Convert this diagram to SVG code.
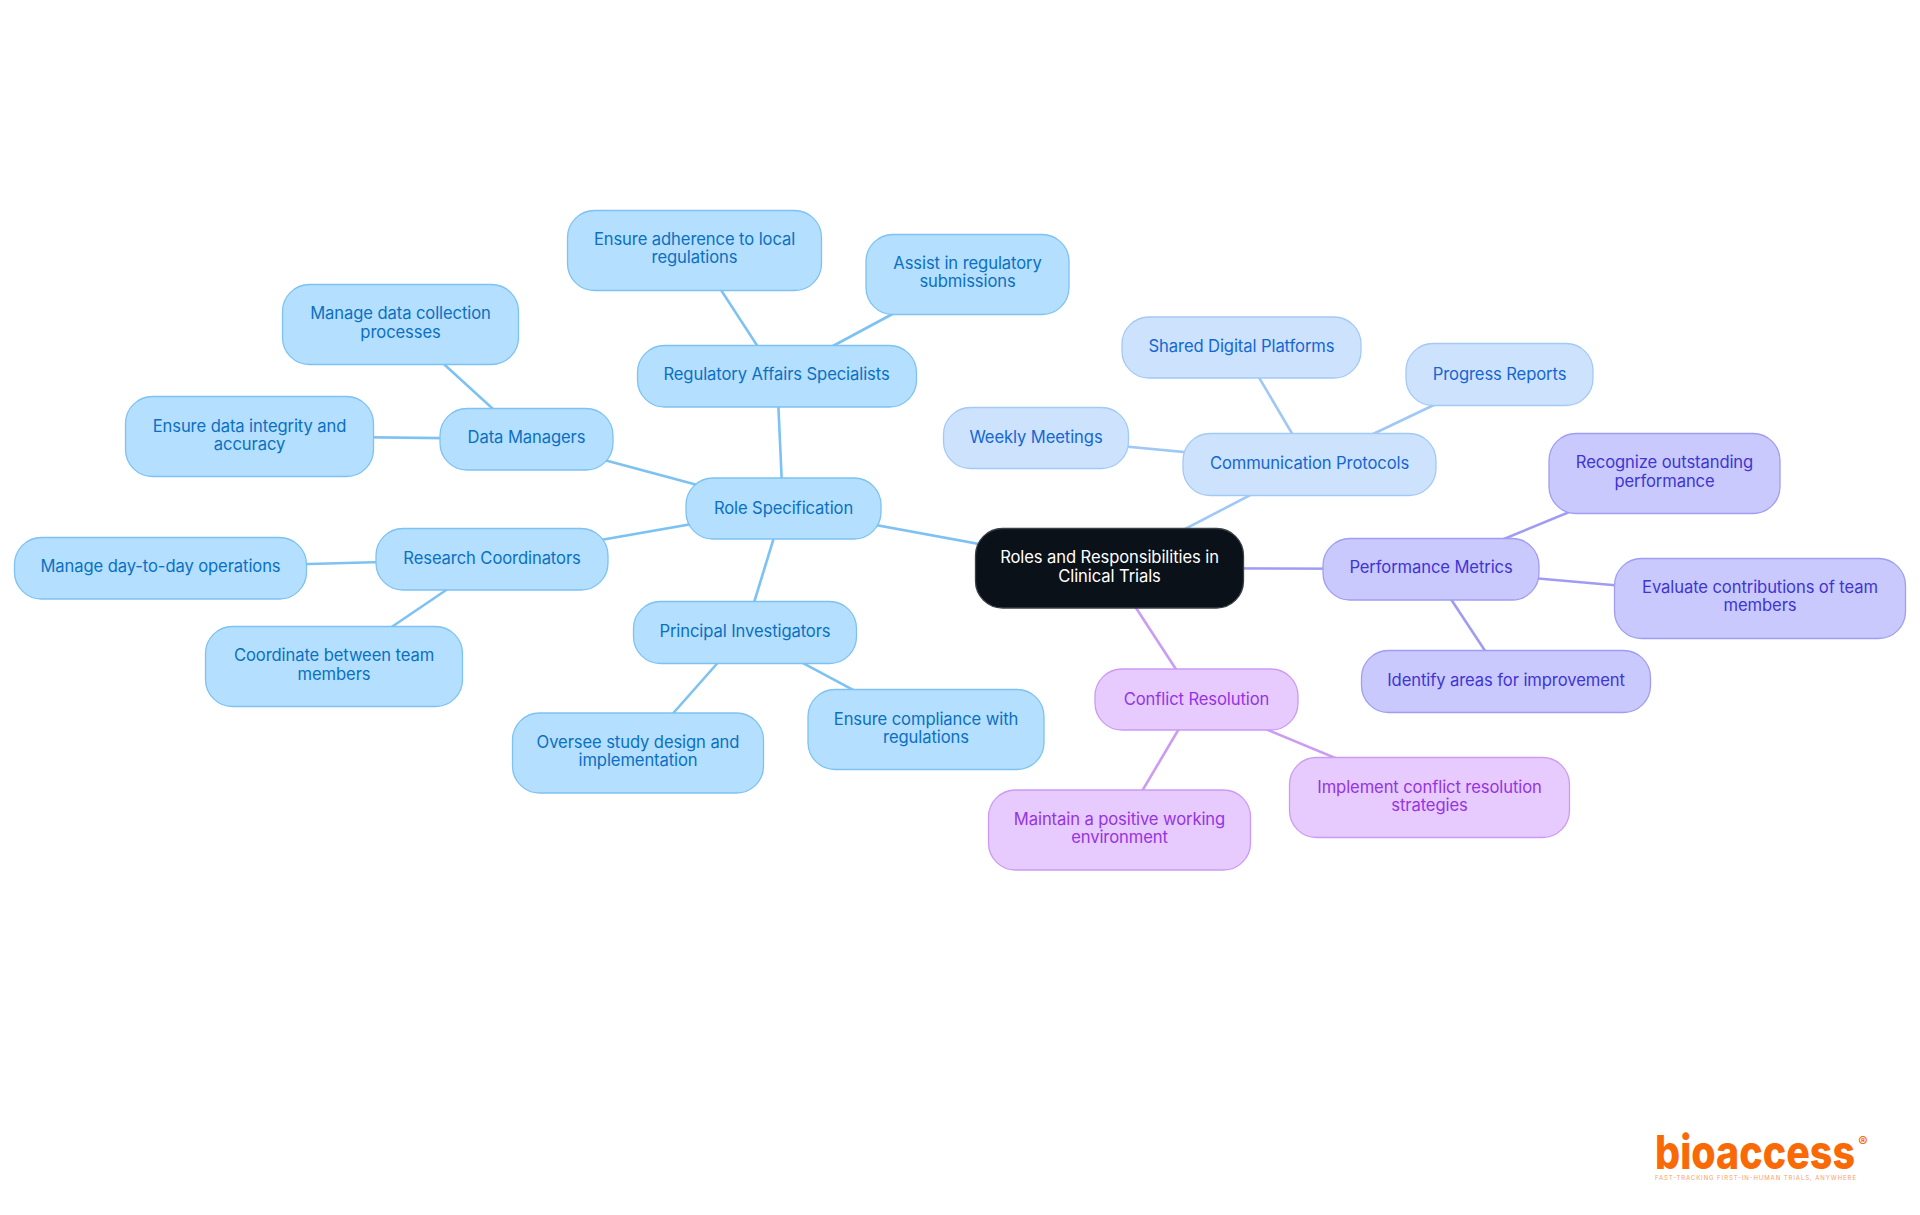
<svg xmlns="http://www.w3.org/2000/svg" width="1920" height="1215" viewBox="0 0 1920 1215">
<style>
text{font-family:"Inter","Noto Sans","Liberation Sans",sans-serif;font-size:16.6px;text-anchor:middle;letter-spacing:-.1px}
rect{stroke-width:1.3}
.blue rect{fill:#b4dfff;stroke:#7dc2f2}.blue text{fill:#0b70c2}
.sky rect{fill:#cde2fd;stroke:#a3c9f5}.sky text{fill:#1467d3}
.ind rect{fill:#c9c9fd;stroke:#a09df2}.ind text{fill:#3f35d4}
.pur rect{fill:#e7cafe;stroke:#cb9bf3}.pur text{fill:#9534e4}
.root rect{fill:#0b1119;stroke:#3a3f46}.root text{fill:#fff}
#connectors line{stroke-width:2.6}
.cb{stroke:#7dc2f2}.cs{stroke:#a0c8f6}.ci{stroke:#9f9cf2}.cp{stroke:#ca9cf4}
</style>
<g id="connectors">
<line class="cb" x1="1110" y1="568" x2="783" y2="508"/>
<line class="cs" x1="1110" y1="568" x2="1310" y2="464"/>
<line class="ci" x1="1110" y1="568" x2="1431" y2="569"/>
<line class="cp" x1="1110" y1="568" x2="1196" y2="700"/>
<line class="cb" x1="783" y1="508" x2="777" y2="376"/>
<line class="cb" x1="783" y1="508" x2="526" y2="439"/>
<line class="cb" x1="783" y1="508" x2="492" y2="559"/>
<line class="cb" x1="783" y1="508" x2="745" y2="632"/>
<line class="cb" x1="777" y1="376" x2="695" y2="250"/>
<line class="cb" x1="777" y1="376" x2="967" y2="274"/>
<line class="cb" x1="526" y1="439" x2="400" y2="324"/>
<line class="cb" x1="526" y1="439" x2="249" y2="436"/>
<line class="cb" x1="492" y1="559" x2="160" y2="568"/>
<line class="cb" x1="492" y1="559" x2="334" y2="666"/>
<line class="cb" x1="745" y1="632" x2="638" y2="753"/>
<line class="cb" x1="745" y1="632" x2="926" y2="729"/>
<line class="cs" x1="1310" y1="464" x2="1241" y2="347"/>
<line class="cs" x1="1310" y1="464" x2="1499" y2="374"/>
<line class="cs" x1="1310" y1="464" x2="1036" y2="438"/>
<line class="ci" x1="1431" y1="569" x2="1664" y2="473"/>
<line class="ci" x1="1431" y1="569" x2="1760" y2="598"/>
<line class="ci" x1="1431" y1="569" x2="1505" y2="681"/>
<line class="cp" x1="1196" y1="700" x2="1429" y2="797"/>
<line class="cp" x1="1196" y1="700" x2="1119" y2="830"/>
</g>
<g id="root" class="root"><rect x="975.500" y="528.500" width="268" height="79.500" rx="27"/><text x="1109.500" y="563">Roles and Responsibilities in</text><text x="1109.500" y="582">Clinical Trials</text></g>
<g id="role-specification" class="blue"><rect x="686" y="478" width="195" height="61" rx="27"/><text x="783.500" y="513.500">Role Specification</text></g>
<g id="regulatory-affairs" class="blue"><rect x="637.500" y="345.500" width="279" height="61.500" rx="27"/><text x="776.500" y="380">Regulatory Affairs Specialists</text></g>
<g id="ensure-adherence" class="blue"><rect x="567.500" y="210.500" width="254" height="80" rx="27"/><text x="694.500" y="245">Ensure adherence to local</text><text x="694.500" y="263">regulations</text></g>
<g id="assist-regulatory" class="blue"><rect x="866" y="234.500" width="203" height="80" rx="27"/><text x="967.500" y="269">Assist in regulatory</text><text x="967.500" y="287">submissions</text></g>
<g id="data-managers" class="blue"><rect x="440" y="408.500" width="173" height="61.500" rx="27"/><text x="526.500" y="443">Data Managers</text></g>
<g id="manage-data" class="blue"><rect x="282.500" y="284.500" width="236" height="80" rx="27"/><text x="400.500" y="319">Manage data collection</text><text x="400.500" y="338">processes</text></g>
<g id="ensure-data" class="blue"><rect x="125.500" y="396.500" width="248" height="80" rx="27"/><text x="249.500" y="432">Ensure data integrity and</text><text x="249.500" y="450">accuracy</text></g>
<g id="research-coordinators" class="blue"><rect x="376" y="528.500" width="232" height="61.500" rx="27"/><text x="492" y="563.500">Research Coordinators</text></g>
<g id="manage-day" class="blue"><rect x="14.500" y="537.500" width="292" height="61.500" rx="27"/><text x="160.500" y="572">Manage day-to-day operations</text></g>
<g id="coordinate" class="blue"><rect x="205.500" y="626.500" width="257" height="80" rx="27"/><text x="334" y="661">Coordinate between team</text><text x="334" y="680">members</text></g>
<g id="principal-investigators" class="blue"><rect x="633.500" y="601.500" width="223" height="62" rx="27"/><text x="745" y="637">Principal Investigators</text></g>
<g id="oversee" class="blue"><rect x="512.500" y="713" width="251" height="80" rx="27"/><text x="638" y="748">Oversee study design and</text><text x="638" y="766">implementation</text></g>
<g id="ensure-compliance" class="blue"><rect x="808" y="689.500" width="236" height="80" rx="27"/><text x="926" y="725">Ensure compliance with</text><text x="926" y="743">regulations</text></g>
<g id="communication-protocols" class="sky"><rect x="1183" y="433.500" width="253" height="62" rx="27"/><text x="1309.500" y="469">Communication Protocols</text></g>
<g id="shared-digital" class="sky"><rect x="1122" y="317" width="239" height="61" rx="27"/><text x="1241.500" y="352">Shared Digital Platforms</text></g>
<g id="progress-reports" class="sky"><rect x="1406" y="343.500" width="187" height="62" rx="27"/><text x="1499.500" y="379.500">Progress Reports</text></g>
<g id="weekly-meetings" class="sky"><rect x="943.500" y="407.500" width="185" height="61" rx="27"/><text x="1036" y="442.500">Weekly Meetings</text></g>
<g id="performance-metrics" class="ind"><rect x="1323" y="538.500" width="216" height="61.500" rx="27"/><text x="1431" y="572.500">Performance Metrics</text></g>
<g id="recognize" class="ind"><rect x="1549" y="433.500" width="231" height="80" rx="27"/><text x="1664.500" y="468">Recognize outstanding</text><text x="1664.500" y="487">performance</text></g>
<g id="evaluate" class="ind"><rect x="1614.500" y="558.500" width="291" height="80" rx="27"/><text x="1760" y="593">Evaluate contributions of team</text><text x="1760" y="611">members</text></g>
<g id="identify" class="ind"><rect x="1361.500" y="650.500" width="289" height="62" rx="27"/><text x="1506" y="686">Identify areas for improvement</text></g>
<g id="conflict-resolution" class="pur"><rect x="1095" y="669" width="203" height="61" rx="27"/><text x="1196.500" y="704.500">Conflict Resolution</text></g>
<g id="implement" class="pur"><rect x="1289.500" y="757.500" width="280" height="80" rx="27"/><text x="1429.500" y="793">Implement conflict resolution</text><text x="1429.500" y="811">strategies</text></g>
<g id="maintain" class="pur"><rect x="988.500" y="790" width="262" height="80" rx="27"/><text x="1119.500" y="825">Maintain a positive working</text><text x="1119.500" y="843">environment</text></g>
<g id="logo">
<text x="1755" y="1169" textLength="200" lengthAdjust="spacingAndGlyphs" style="font-weight:800;font-size:47px;fill:#f96a06;letter-spacing:0">bioaccess</text>
<text x="1863" y="1147" style="font-weight:700;font-size:14px;fill:#f96a06;letter-spacing:0">®</text>
<text x="1755.500" y="1180" textLength="201" style="font-size:6px;fill:#f9a066;letter-spacing:0">FAST-TRACKING FIRST-IN-HUMAN TRIALS, ANYWHERE</text>
</g>
</svg>
